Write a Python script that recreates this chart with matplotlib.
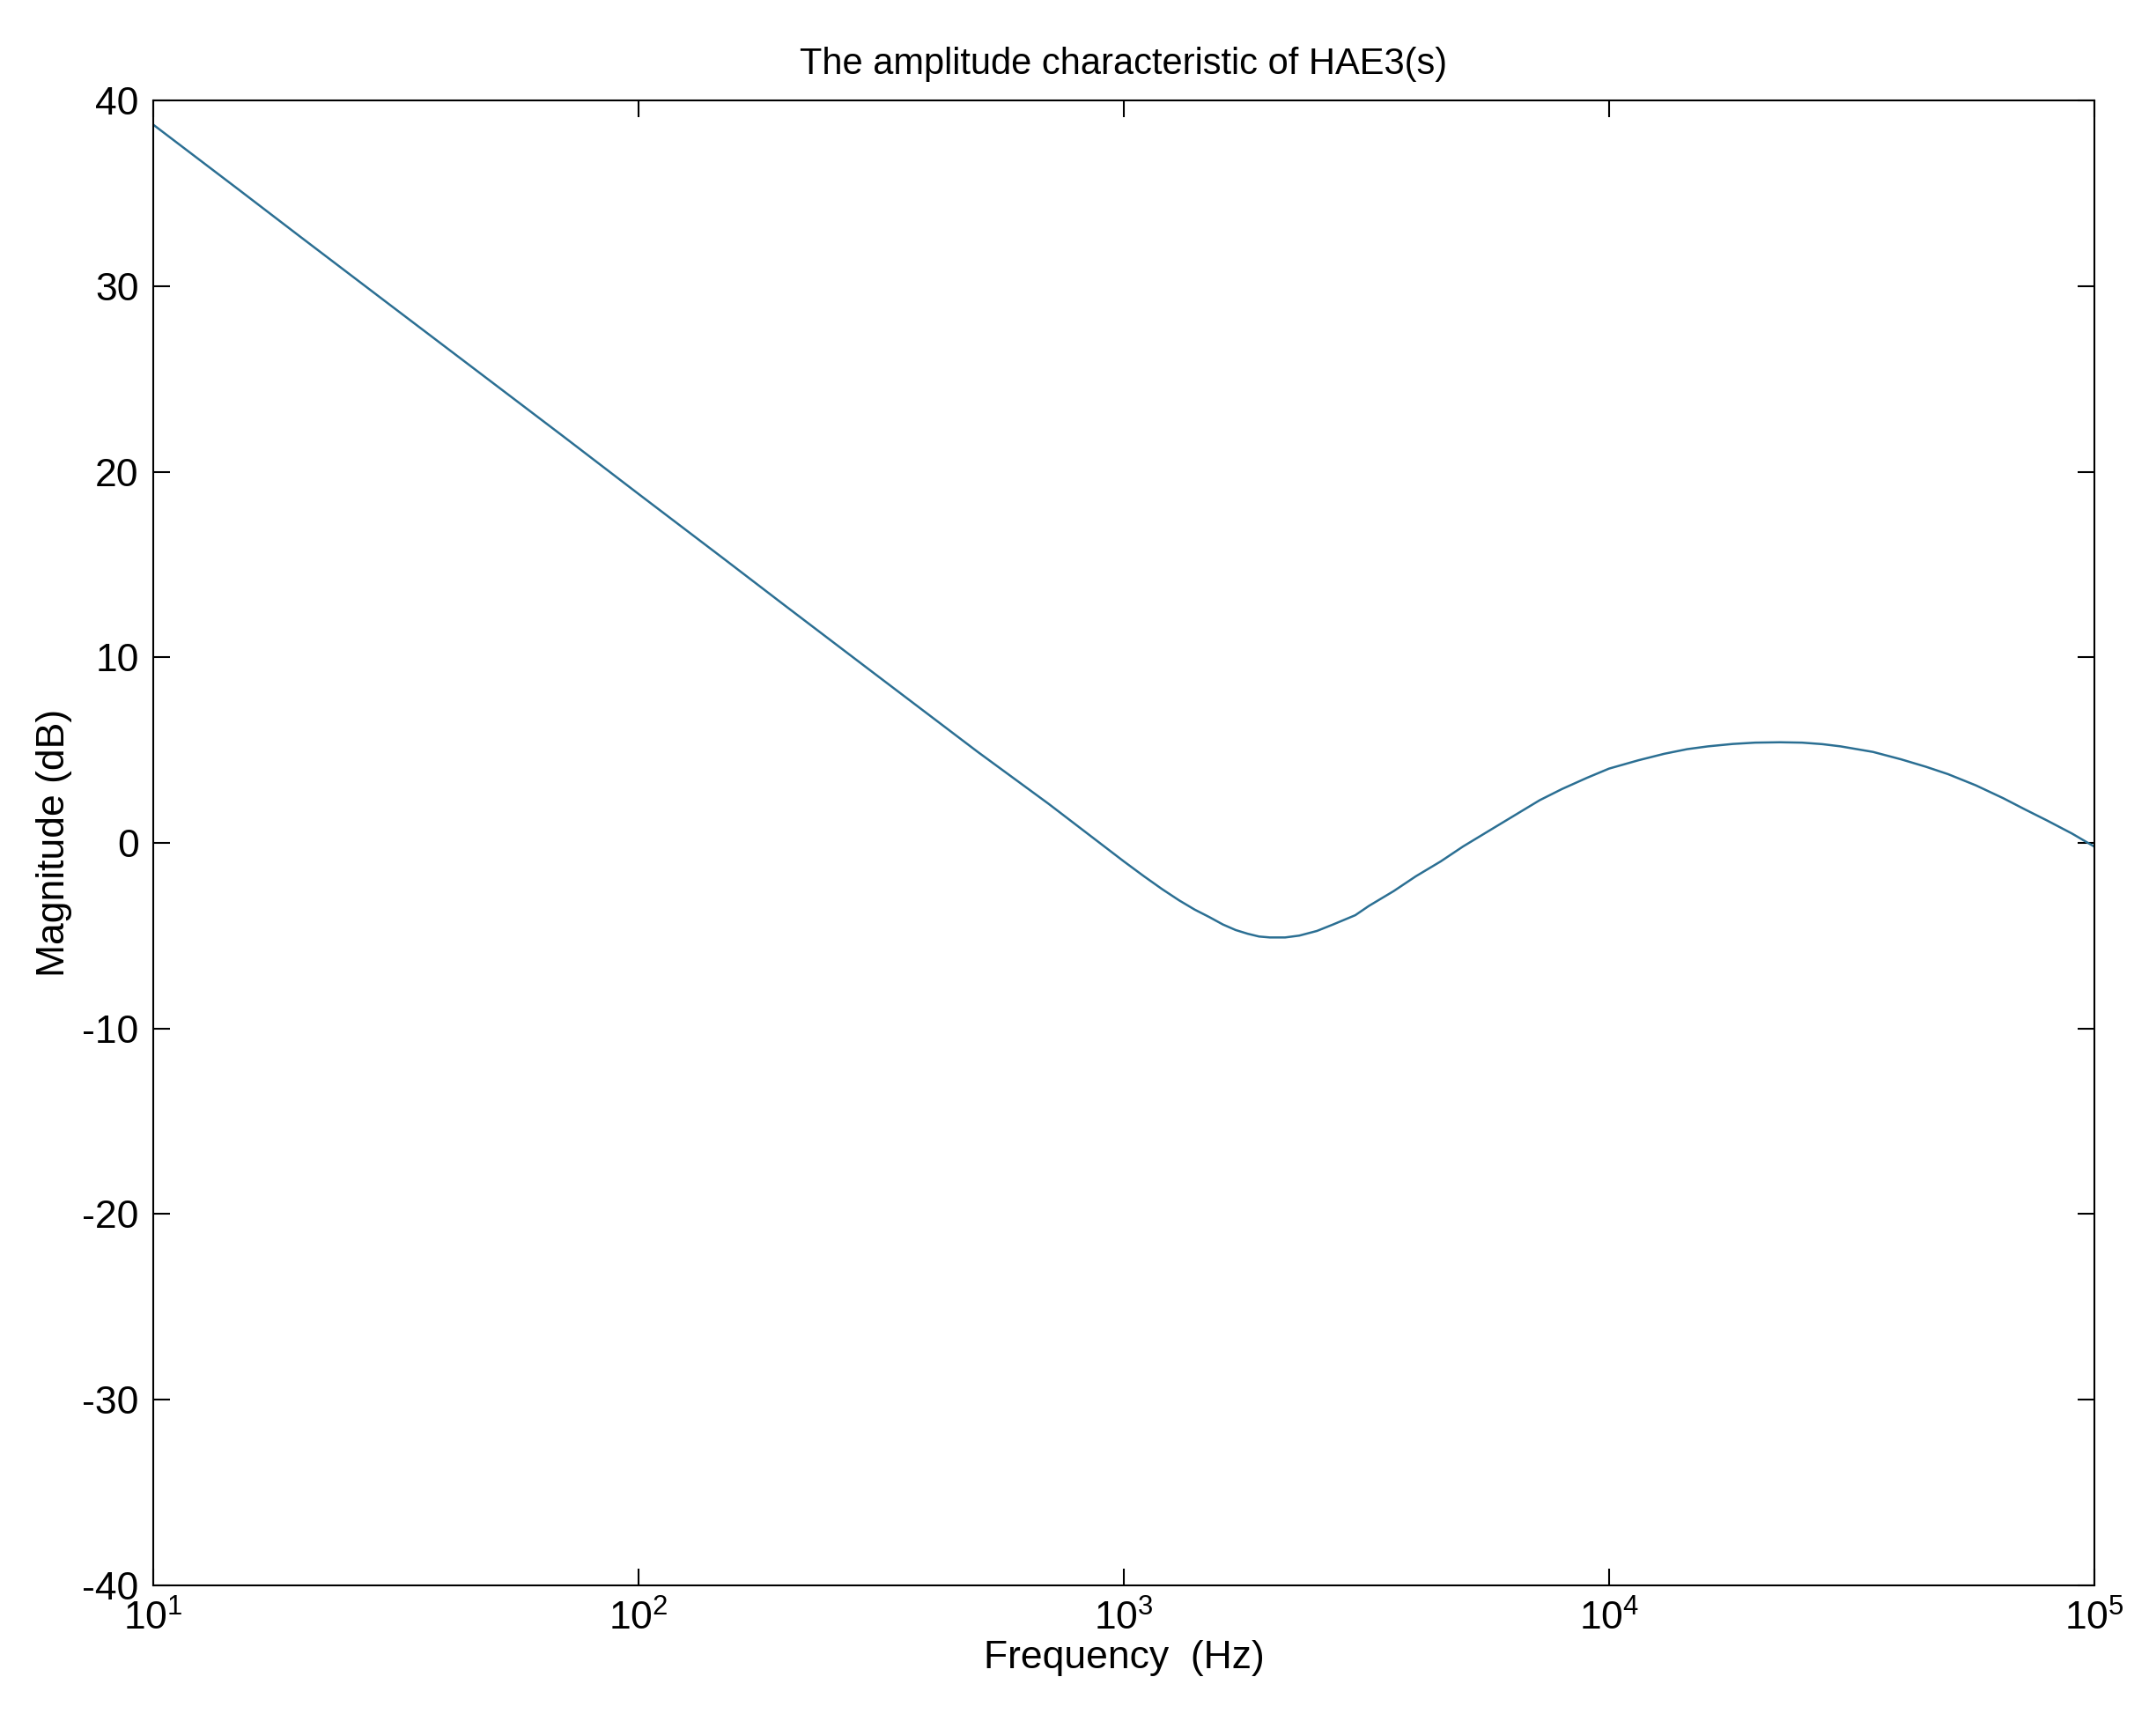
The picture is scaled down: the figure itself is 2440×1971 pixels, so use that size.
import numpy as np
import matplotlib
matplotlib.use("Agg")
import matplotlib.pyplot as plt

plt.rcParams["font.family"] = ["Liberation Sans", "DejaVu Sans"]
plt.rcParams["axes.unicode_minus"] = False

# magnitude
freq = [10, 15, 20, 30, 50, 70, 100, 150, 200, 300, 500, 700, 1000, 1100, 1200,
        1300, 1400, 1500, 1600, 1700, 1800, 1900, 2000, 2150, 2300, 2500, 2700,
        3000, 3200, 3600, 4000, 4500, 5000, 5700, 6500, 7200, 8000, 9000, 10000,
        11500, 13000, 14500, 16000, 18000, 20000, 22500, 25000, 27500, 30000,
        35000, 40000, 45000, 50000, 57000, 65000, 72000, 80000, 90000, 100000]
mag = [38.7, 35.2, 32.7, 29.2, 24.8, 21.9, 18.8, 15.3, 12.8, 9.3, 4.9, 2.1, -1.0,
       -1.8, -2.5, -3.1, -3.6, -4.0, -4.4, -4.7, -4.9, -5.05, -5.1, -5.1, -5.0,
       -4.75, -4.4, -3.9, -3.4, -2.6, -1.8, -1.0, -0.2, 0.7, 1.6, 2.3, 2.9, 3.5,
       4.0, 4.45, 4.8, 5.05, 5.2, 5.33, 5.4, 5.42, 5.4, 5.32, 5.2, 4.9, 4.5,
       4.1, 3.7, 3.1, 2.4, 1.8, 1.2, 0.5, -0.2]


def main():
    fig = plt.figure(figsize=(24.4, 19.71), dpi=100)
    ax = fig.add_axes([0.0714, 0.087, 0.9031, 0.855])
    ax.semilogx(freq, mag, color="#2b6f93", lw=1.8)
    ax.set_xlim(10, 1e5)
    ax.set_ylim(-40, 40)
    ax.set_yticks(np.arange(-40, 41, 10))
    ax.xaxis.set_minor_locator(matplotlib.ticker.NullLocator())
    ax.tick_params(direction="in", top=True, right=True, length=14, width=1.5,
                   labelsize=32, pad=12)
    for s in ax.spines.values():
        s.set_linewidth(1.5)
    ax.set_xlabel("Frequency  (Hz)", fontsize=32, labelpad=2)
    ax.set_ylabel("Magnitude (dB)", fontsize=32, labelpad=8)
    ax.set_title("The amplitude characteristic of HAE3(s)", fontsize=30, pad=22)
    fig.savefig("out.png", dpi=100)


if __name__ == "__main__":
    main()
